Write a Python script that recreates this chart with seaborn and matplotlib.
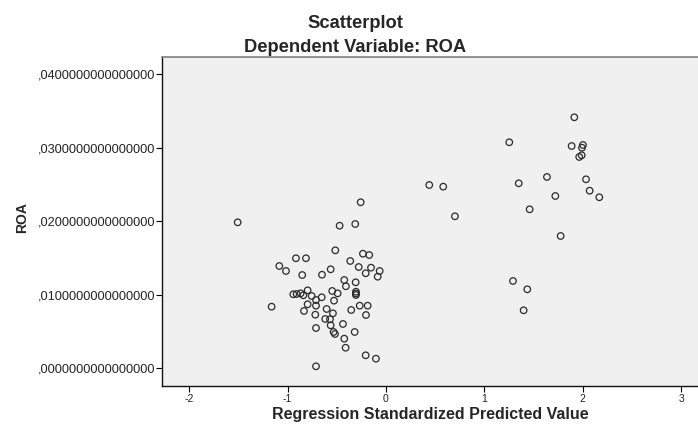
import pandas as pd
import matplotlib
matplotlib.use("Agg")
import matplotlib.pyplot as plt
import seaborn as sns
from matplotlib.ticker import FuncFormatter

# Regression Standardized Predicted Value
pred_value = [
    -0.257, -1.507, -0.471, -0.312, -0.515, -0.234, -0.170, -0.915, -0.813, -0.363,
    -1.084, -1.016, -0.277, -0.152, -0.064, -0.206, -0.084, -0.562, -0.650, -0.851,
    -0.424, -0.308, -0.407, -0.546, -0.491, -0.305, -0.305, -0.305, -0.796, -0.942,
    -0.908, -0.867, -0.840, -0.755, -0.653, -0.711, -0.528, -1.162, -0.796, -0.711,
    -0.267, -0.186, -0.833, -0.603, -0.353, -0.718, -0.539, -0.203, -0.617, -0.569,
    -0.437, -0.562, -0.711, -0.532, -0.518, -0.318, -0.424, -0.410, -0.206, -0.102,
    -0.711, 0.440, 1.914, 1.253, 1.887, 2.002, 1.992, 1.989, 1.964, 1.636,
    2.033, 1.349, 0.582, 2.070, 2.168, 1.721, 1.460, 0.701, 1.775, 1.291,
    1.436, 1.399,
]

# ROA
roa = [
    0.02259, 0.01986, 0.01940, 0.01963, 0.01605, 0.01559, 0.01541, 0.01497, 0.01497, 0.01460,
    0.01392, 0.01324, 0.01378, 0.01369, 0.01324, 0.01293, 0.01246, 0.01347, 0.01273, 0.01269,
    0.01201, 0.01170, 0.01116, 0.01052, 0.01020, 0.01042, 0.00997, 0.01018, 0.01061, 0.01007,
    0.01011, 0.01020, 0.00993, 0.00984, 0.00966, 0.00929, 0.00920, 0.00838, 0.00871, 0.00852,
    0.00852, 0.00852, 0.00780, 0.00807, 0.00793, 0.00729, 0.00748, 0.00725, 0.00671, 0.00667,
    0.00603, 0.00585, 0.00548, 0.00494, 0.00467, 0.00494, 0.00403, 0.00280, 0.00177, 0.00131,
    0.00027, 0.02494, 0.03415, 0.03075, 0.03024, 0.03038, 0.03001, 0.02898, 0.02875, 0.02603,
    0.02571, 0.02517, 0.02471, 0.02416, 0.02327, 0.02344, 0.02163, 0.02068, 0.01800, 0.01188,
    0.01075, 0.00789,
]

x_ticks = [-2, -1, 0, 1, 2, 3]
y_ticks = [0.00, 0.01, 0.02, 0.03, 0.04]

df = pd.DataFrame({"pred": pred_value, "ROA": roa})

sns.set_theme(style="ticks")
plt.rcParams['font.family'] = ['Liberation Sans', 'DejaVu Sans']
plt.rcParams['axes.unicode_minus'] = False

fig = plt.figure(figsize=(6.98, 4.26), dpi=100)
fig.patch.set_facecolor("white")
ax = fig.add_axes([162 / 698, 1 - 385.5 / 426, 1 - 162 / 698, (385.5 - 57.3) / 426])
ax.set_facecolor("#f0f0f0")

sns.scatterplot(data=df, x="pred", y="ROA", ax=ax, marker="o", s=22,
                facecolor="none", edgecolor="#2a2a2a", linewidth=0.9)

ax.set_xlim(-2.276, 3.171)
ax.set_ylim(-0.00234, 0.04231)
ax.set_xticks(x_ticks)
ax.set_yticks(y_ticks)
ax.yaxis.set_major_formatter(FuncFormatter(lambda v, p: f"{v:.16f}".replace("0.", ",", 1)))
ax.tick_params(axis="y", labelsize=9.2, length=4, width=0.8, color="#000000", pad=1,
               labelcolor="#222222")
ax.tick_params(axis="x", labelsize=7.5, length=4, width=0.8, color="#000000", pad=2,
               labelcolor="#222222")

for side in ["left", "bottom"]:
    ax.spines[side].set_color("#111111")
    ax.spines[side].set_linewidth(1.0)
ax.spines["top"].set_color("#808080")
ax.spines["top"].set_linewidth(1.2)
ax.spines["right"].set_visible(False)

ax.set_xlabel("Regression Standardized Predicted Value", fontsize=11.5, fontweight="bold", labelpad=2)
ax.set_ylabel("")
fig.text(22 / 698, 1 - 218 / 426, "ROA", rotation=90, fontsize=10, fontweight="bold",
         ha="center", va="center")

fig.text(355 / 698, 1 - 23 / 426, "Scatterplot", fontsize=13.2, fontweight="bold",
         ha="center", va="center")
fig.text(355 / 698, 1 - 47 / 426, "Dependent Variable: ROA", fontsize=13.2, fontweight="bold",
         ha="center", va="center")

fig.savefig("out.png", dpi=100)
